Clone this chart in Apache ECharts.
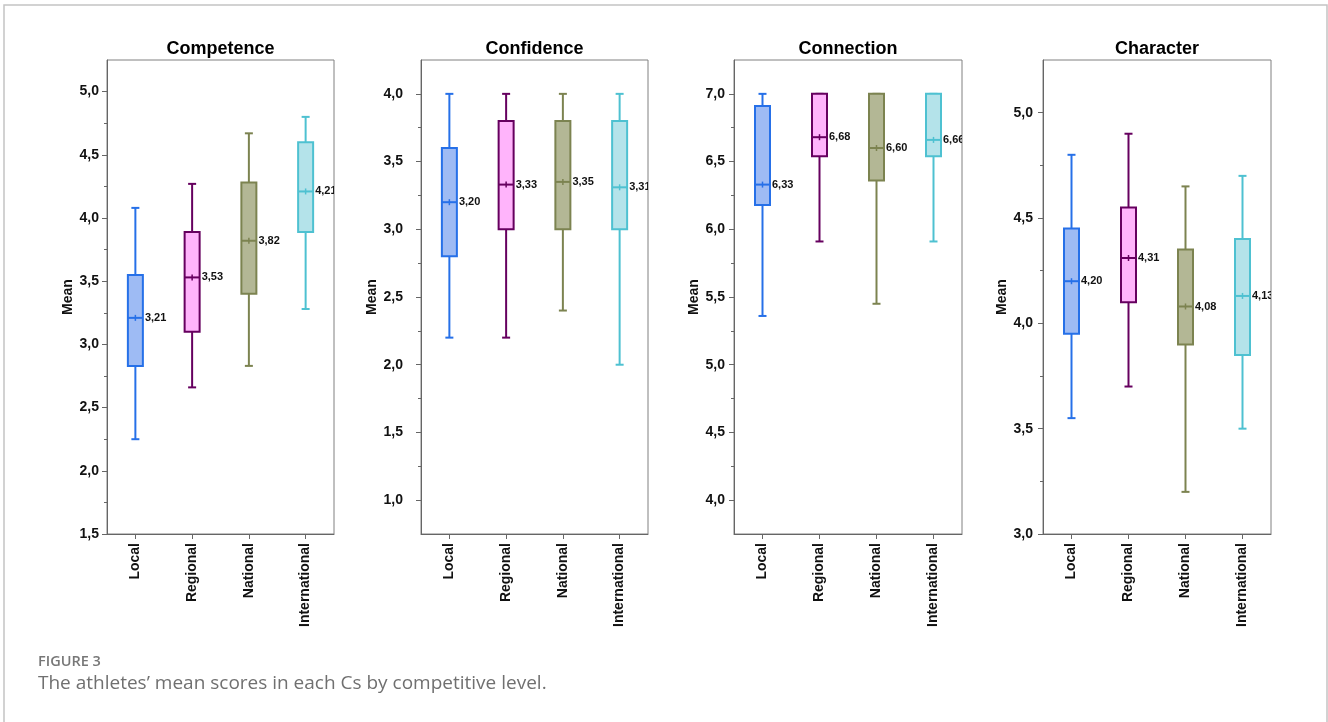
<!DOCTYPE html>
<html><head><meta charset="utf-8">
<script src="https://cdn.jsdelivr.net/npm/echarts@6/dist/echarts.min.js"></script>
<style>html,body{margin:0;padding:0;background:#fff}#c{width:1328px;height:722px}</style>
</head><body><div id="c"></div>
<script>
// ---------- DATA ----------
const categories = ['Local', 'Regional', 'National', 'International'];
const panelTitles = ['Competence', 'Confidence', 'Connection', 'Character'];
// each row: [lower whisker, box bottom, mean, box top, upper whisker]
const competence = [[2.25, 2.83, 3.21, 3.55, 4.08], [2.66, 3.10, 3.53, 3.89, 4.27], [2.83, 3.40, 3.82, 4.28, 4.67], [3.28, 3.89, 4.21, 4.60, 4.80]];
const confidence = [[2.20, 2.80, 3.20, 3.60, 4.00], [2.20, 3.00, 3.33, 3.80, 4.00], [2.40, 3.00, 3.35, 3.80, 4.00], [2.00, 3.00, 3.31, 3.80, 4.00]];
const connection = [[5.36, 6.18, 6.33, 6.91, 7.00], [5.91, 6.54, 6.68, 7.00, 7.00], [5.45, 6.36, 6.60, 7.00, 7.00], [5.91, 6.54, 6.66, 7.00, 7.00]];
const character = [[3.55, 3.95, 4.20, 4.45, 4.80], [3.70, 4.10, 4.31, 4.55, 4.90], [3.20, 3.90, 4.08, 4.35, 4.65], [3.50, 3.85, 4.13, 4.40, 4.70]];
const competenceTicks = [1.5, 2.0, 2.5, 3.0, 3.5, 4.0, 4.5, 5.0];
const confidenceTicks = [1.0, 1.5, 2.0, 2.5, 3.0, 3.5, 4.0];
const connectionTicks = [4.0, 4.5, 5.0, 5.5, 6.0, 6.5, 7.0];
const characterTicks = [3.0, 3.5, 4.0, 4.5, 5.0];
const axisMin = [1.5, 0.75, 3.75, 3.0];
const axisMax = [5.25, 4.25, 7.25, 5.25];
const yName = 'Mean';
const figureLabel = 'FIGURE 3';
const captionText = 'The athletes\u2019 mean scores in each Cs by competitive level.';

// ---------- STYLE / LAYOUT ----------
const panels = [competence, confidence, connection, character];
const majorTicks = [competenceTicks, confidenceTicks, connectionTicks, characterTicks];
const strokeColors = ['#2670e8', '#66005f', '#7c8350', '#4ec1d1'];
const fillColors = ['#9ebbf4', '#ffb4fb', '#b3b795', '#b4e3ea'];
const gridLeft = [107, 421, 734, 1043];
const gridWidth = [227, 227, 228, 228];
const gridTop = 60, gridHeight = 474;
const labelMargin = [8, 18, 9, 10];
const nameGaps = [32, 41, 32, 31];
const FONT = '"Liberation Sans", Arial, sans-serif';
const fmt = v => v.toFixed(2).replace('.', ',');
const fmt1 = v => v.toFixed(1).replace('.', ',');
// minor tick positions: every 0.25 strictly inside the axis range
const minorTicksFor = k => {
  const out = [];
  for (let v = axisMin[k] + 0.25; v < axisMax[k] - 1e-6; v += 0.25) out.push(Math.round(v * 100) / 100);
  return out;
};

const grids = [], xAxes = [], yAxes = [], series = [], graphics = [];
panels.forEach((rows, k) => {
  grids.push({ left: gridLeft[k], top: gridTop, width: gridWidth[k], height: gridHeight,
    show: true, borderColor: '#808080', borderWidth: 1, backgroundColor: 'transparent', containLabel: false });
  xAxes.push({ type: 'category', gridIndex: k, data: categories, boundaryGap: true,
    axisLine: { show: true, lineStyle: { color: '#666', width: 1 } },
    axisTick: { show: true, alignWithLabel: true, length: 5, lineStyle: { color: '#666' } },
    axisLabel: { rotate: 90, margin: 9, color: '#111', fontWeight: 'bold', fontSize: 14, fontFamily: FONT, interval: 0 },
    splitLine: { show: false } });
  // axis with minor ticks + labels
  yAxes.push({ type: 'value', gridIndex: k, position: 'left', min: axisMin[k], max: axisMax[k], interval: 0.25,
    name: yName, nameLocation: 'middle', nameGap: nameGaps[k],
    nameTextStyle: { color: '#111', fontWeight: 'bold', fontSize: 14, fontFamily: FONT },
    axisLine: { show: true, lineStyle: { color: '#666', width: 1 } },
    axisTick: { show: true, length: 3, customValues: minorTicksFor(k), lineStyle: { color: '#666' } },
    axisLabel: { margin: labelMargin[k], color: '#111', fontWeight: 'bold', fontSize: 14, fontFamily: FONT,
      showMinLabel: true, showMaxLabel: true,
      formatter: v => (majorTicks[k].some(t => Math.abs(t - v) < 1e-6) ? fmt1(v) : '') },
    splitLine: { show: false } });
  // axis with major ticks only
  yAxes.push({ type: 'value', gridIndex: k, position: 'left', offset: 0, min: axisMin[k], max: axisMax[k],
    axisLine: { show: false },
    axisTick: { show: true, length: 5, customValues: majorTicks[k], lineStyle: { color: '#666' } },
    axisLabel: { show: false },
    splitLine: { show: false } });

  series.push({ type: 'custom', xAxisIndex: k, yAxisIndex: 2 * k, clip: true,
    data: rows.map((r, i) => [i].concat(r)),
    encode: { x: 0, y: [1, 2, 3, 4, 5] },
    renderItem: (params, api) => {
      const i = api.value(0);
      const pMin = api.coord([i, api.value(1)]);
      const pQ1 = api.coord([i, api.value(2)]);
      const pMean = api.coord([i, api.value(3)]);
      const pQ3 = api.coord([i, api.value(4)]);
      const pMax = api.coord([i, api.value(5)]);
      const cx = pMin[0];
      const hw = 7.5, cw = 4;
      const sc = strokeColors[i], fc = fillColors[i];
      const ls = { stroke: sc, lineWidth: 2 };
      return { type: 'group', children: [
        { type: 'line', shape: { x1: cx, y1: pQ3[1], x2: cx, y2: pMax[1] }, style: ls },
        { type: 'line', shape: { x1: cx, y1: pQ1[1], x2: cx, y2: pMin[1] }, style: ls },
        { type: 'line', shape: { x1: cx - cw, y1: pMax[1], x2: cx + cw, y2: pMax[1] }, style: ls },
        { type: 'line', shape: { x1: cx - cw, y1: pMin[1], x2: cx + cw, y2: pMin[1] }, style: ls },
        { type: 'rect', shape: { x: cx - hw, y: pQ3[1], width: 2 * hw, height: pQ1[1] - pQ3[1] },
          style: { fill: fc, stroke: sc, lineWidth: 2 } },
        { type: 'line', shape: { x1: cx - hw, y1: pMean[1], x2: cx + hw, y2: pMean[1] }, style: ls },
        { type: 'line', shape: { x1: cx, y1: pMean[1] - 3, x2: cx, y2: pMean[1] + 3 }, style: { stroke: sc, lineWidth: 1.5 } },
        { type: 'text', x: cx + hw + 2, y: pMean[1],
          style: { text: fmt(api.value(3)), fill: '#111', font: 'bold 11px ' + FONT,
            align: 'left', verticalAlign: 'middle', textAlign: 'left', textVerticalAlign: 'middle' } }
      ] };
    } });

  graphics.push({ type: 'text', x: gridLeft[k] + gridWidth[k] / 2, y: 49,
    style: { text: panelTitles[k], fill: '#000', font: 'bold 18px ' + FONT, align: 'center', verticalAlign: 'middle',
      textAlign: 'center', textVerticalAlign: 'middle' } });
});

graphics.push({ type: 'rect', shape: { x: 4, y: 5, width: 1323, height: 800 },
  style: { fill: 'none', stroke: '#c4c4c4', lineWidth: 1.5 }, silent: true });
graphics.push({ type: 'text', x: 38, y: 662,
  style: { text: figureLabel, fill: '#777', font: '600 14.5px "Open Sans", sans-serif', align: 'left', verticalAlign: 'middle',
    textAlign: 'left', textVerticalAlign: 'middle' } });
graphics.push({ type: 'text', x: 38, y: 684,
  style: { text: captionText, fill: '#707070', font: '19px "Open Sans", sans-serif', align: 'left', verticalAlign: 'middle',
    textAlign: 'left', textVerticalAlign: 'middle' } });

const chart = echarts.init(document.getElementById('c'), null, { renderer: 'canvas' });
chart.setOption({
  animation: false,
  backgroundColor: '#fff',
  grid: grids, xAxis: xAxes, yAxis: yAxes, series: series,
  graphic: graphics
});
</script></body></html>
